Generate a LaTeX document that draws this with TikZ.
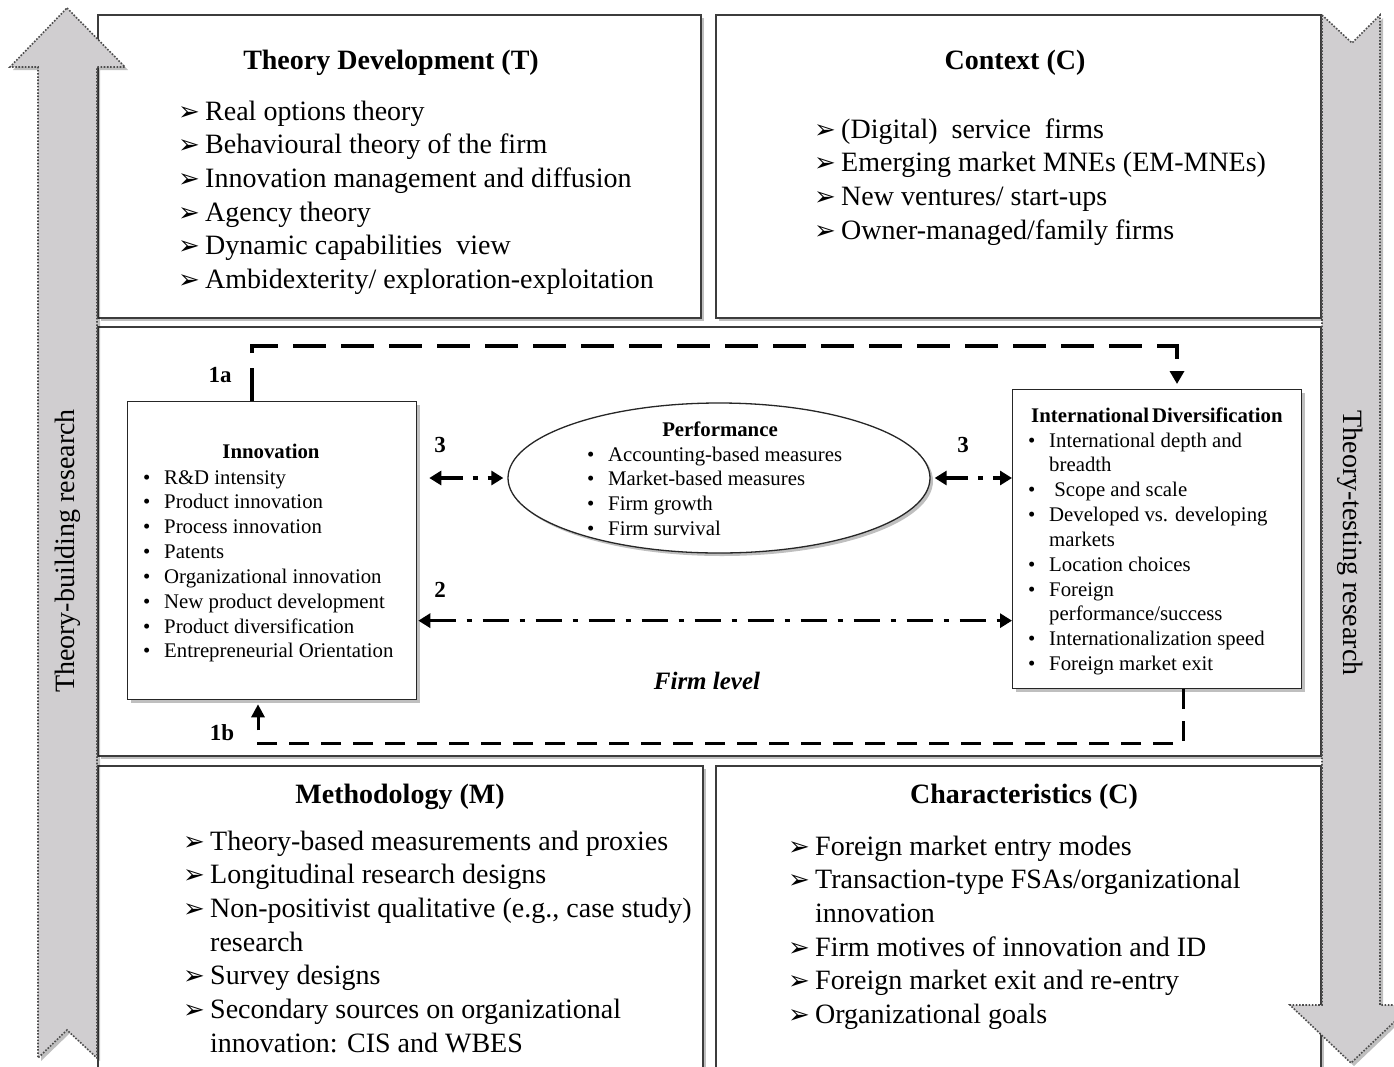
\documentclass[tikz,border=0pt]{standalone}
\usepackage{fontspec}
\setmainfont{Liberation Serif}
\newfontfamily\dejavu{DejaVu Sans}
\usetikzlibrary{arrows.meta,shadows,shapes.geometric,calc}
\newcommand{\fbig}{\fontsize{28}{33.7}\selectfont}
\newcommand{\fsmall}{\fontsize{20.8}{24.85}\selectfont}
\newcommand{\ab}{\makebox[27pt][l]{{\dejavu\fontsize{26}{26}\selectfont ➢}}}
\newcommand{\bu}{\makebox[21pt][l]{•}}
\definecolor{arrgray}{HTML}{D0CED0}
\definecolor{boxline}{HTML}{3C3C3C}
\begin{document}
\begin{tikzpicture}[x=1pt,y=-1pt,
  shadowed/.style={drop shadow={shadow xshift=3pt,shadow yshift=-3pt,fill=black,opacity=0.25}},
  bigbox/.style={draw=boxline,line width=1.8pt,fill=white,shadowed},
  bigarrow/.style={fill=arrgray,draw=black!70,line width=1.6pt,dash pattern=on 1.6pt off 1.6pt,shadowed},
  ibox/.style={draw=black!85,line width=1.3pt,fill=white,shadowed,inner sep=0pt},
  lbl/.style={font=\fontsize{23}{23}\selectfont\bfseries,inner sep=0pt},
  txt/.style={inner sep=0pt,anchor=base west},
  d1a/.style={line width=4pt,dash pattern=on 33pt off 15pt,-{Triangle[length=13pt,width=14pt]}},
  d1b/.style={line width=3pt,dash pattern=on 20pt off 12pt,-{Triangle[length=13pt,width=13pt]}},
  dd3/.style={line width=3.5pt,dash pattern=on 22pt off 10pt on 5pt off 10pt,{Triangle[length=12pt,width=14pt]}-{Triangle[length=12pt,width=14pt]}},
  dd2/.style={line width=3.5pt,dash pattern=on 26pt off 11pt on 5pt off 11pt,{Triangle[length=12pt,width=14pt]}-{Triangle[length=12pt,width=14pt]}}
]
\useasboundingbox (0,0) rectangle (1394,1066);
\fill[white] (0,0) rectangle (1394,1066);
% big boxes
\path[bigbox] (98,15) rectangle (701,318);
\path[bigbox] (716,15) rectangle (1321,318);
\path[bigbox] (98,327) rectangle (1321,756);
\path[bigbox] (98,766) rectangle (703,1090);
\path[bigbox] (716,766) rectangle (1321,1090);
% big arrows
\path[bigarrow] (67,8) -- (125,67) -- (97,67) -- (97,1058) -- (67,1030) -- (38,1058) -- (38,67) -- (10,67) -- cycle;
\path[bigarrow] (1322,15) -- (1352,43) -- (1380,15) -- (1380,1005) -- (1412,1005) -- (1351,1063) -- (1290,1005) -- (1322,1005) -- cycle;
\node[rotate=90,font=\fbig,inner sep=0pt] (tb) at (68,551) {Theory-building research};
\node[rotate=-90,font=\fbig,inner sep=0pt] (tt) at (1350,543) {Theory-testing research};
% top-left
\node[txt,anchor=base,font=\fbig\bfseries] (t1) at (391,69) {Theory Development (T)};
\node[txt,font=\fbig] (l1) at (178,120) {\begin{tabular}[t]{@{}l@{}l@{}}
\ab & Real options theory\\
\ab & Behavioural theory of the firm\\
\ab & Innovation management and diffusion\\
\ab & Agency theory\\
\ab & Dynamic capabilities\ \ view\\
\ab & Ambidexterity/ exploration-exploitation
\end{tabular}};
% top-right
\node[txt,anchor=base,font=\fbig\bfseries] (t2) at (1015,69) {Context (C)};
\node[txt,font=\fbig] (l2) at (814,138) {\begin{tabular}[t]{@{}l@{}l@{}}
\ab & (Digital)\ \ service\ \ firms\\
\ab & Emerging market MNEs (EM-MNEs)\\
\ab & New ventures/ start-ups\\
\ab & Owner-managed/family firms
\end{tabular}};
% bottom-left
\node[txt,anchor=base,font=\fbig\bfseries] (t3) at (400,803) {Methodology (M)};
\node[txt,font=\fbig] (l3) at (183,850) {\begin{tabular}[t]{@{}l@{}l@{}}
\ab & Theory-based measurements and proxies\\
\ab & Longitudinal research designs\\
\ab & Non-positivist qualitative (e.g., case study)\\
 & research\\
\ab & Survey designs\\
\ab & Secondary sources on organizational\\
 & innovation: CIS and WBES
\end{tabular}};
% bottom-right
\node[txt,anchor=base,font=\fbig\bfseries] (t4) at (1024,803) {Characteristics (C)};
\node[txt,font=\fbig] (l4) at (788,855) {\begin{tabular}[t]{@{}l@{}l@{}}
\ab & Foreign market entry modes\\
\ab & Transaction-type FSAs/organizational\\
 & innovation\\
\ab & Firm motives of innovation and ID\\
\ab & Foreign market exit and re-entry\\
\ab & Organizational goals
\end{tabular}};
% inner boxes
\node[ibox,anchor=north west,minimum width=289pt,minimum height=298pt] (inn) at (127,401) {};
\node[ibox,anchor=north west,minimum width=289pt,minimum height=299pt] (id) at (1012,389) {};
\node[ibox,ellipse,minimum width=422pt,minimum height=150pt] (perf) at (719,478) {};
\node[txt,anchor=base,font=\fsmall\bfseries] (innt) at (271,458) {Innovation};
\node[txt,font=\fsmall] (innl) at (143,484) {\begin{tabular}[t]{@{}l@{}l@{}}
\bu & R\&D intensity\\
\bu & Product innovation\\
\bu & Process innovation\\
\bu & Patents\\
\bu & Organizational innovation\\
\bu & New product development\\
\bu & Product diversification\\
\bu & Entrepreneurial Orientation
\end{tabular}};
\node[txt,anchor=base,font=\fsmall\bfseries] (perft) at (720,436) {Performance};
\node[txt,font=\fsmall] (perfl) at (587,461) {\begin{tabular}[t]{@{}l@{}l@{}}
\bu & Accounting-based measures\\
\bu & Market-based measures\\
\bu & Firm growth\\
\bu & Firm survival
\end{tabular}};
\node[txt,font=\fsmall\bfseries] (idt) at (1031,422) {International\hspace{3pt}Diversification};
\node[txt,font=\fsmall] (idl) at (1028,447) {\begin{tabular}[t]{@{}l@{}l@{}}
\bu & International depth and\\
 & breadth\\
\bu & \ Scope and scale\\
\bu & Developed vs. developing\\
 & markets\\
\bu & Location choices\\
\bu & Foreign\\
 & performance/success\\
\bu & Internationalization speed\\
\bu & Foreign market exit
\end{tabular}};
% connectors
\coordinate (c2) at ([yshift=-70pt]inn.east);
\draw[d1a,shorten >=5pt] ([xshift=125pt]inn.north west) -- ([xshift=125pt,yshift=55pt]inn.north west) -| ([xshift=165pt]id.north west);
\draw[d1b,shorten >=4pt] ([xshift=171pt]id.south west) -- ([xshift=171pt,yshift=-54pt]id.south west) -| ([xshift=131pt]inn.south west);
\draw[dd3,shorten <=12pt,shorten >=4pt] (inn.east |- perf.west) -- (perf.west);
\draw[dd3,shorten <=4pt] (perf.east) -- (id.west |- perf.east);
\draw[dd2,shorten <=1pt] (c2) -- (c2 -| id.west);
% labels
\node[lbl] (n1a) at (220,375) {1a};
\node[lbl] (n1b) at (222,733) {1b};
\node[lbl] (n3a) at (440,445) {3};
\node[lbl] (n3b) at (963,445) {3};
\node[lbl] (n2) at (440,590) {2};
\node[font=\fontsize{25}{25}\selectfont\bfseries\itshape,inner sep=0pt] (fl) at (707,681) {Firm level};
\end{tikzpicture}
\end{document}
